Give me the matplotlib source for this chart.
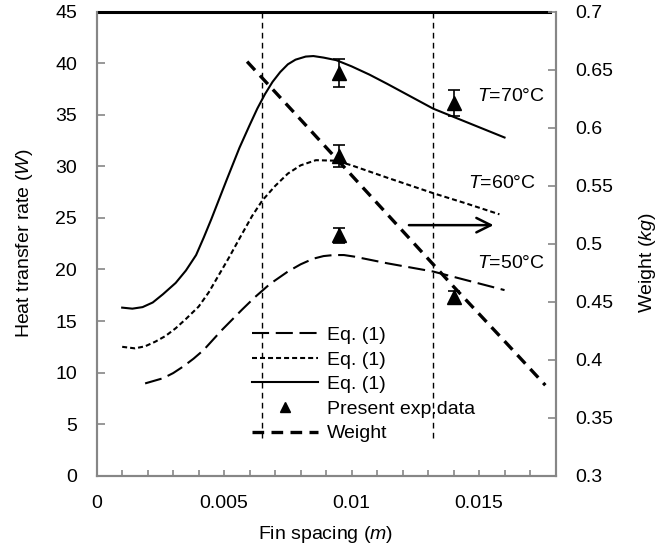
import numpy as np
import matplotlib
matplotlib.use("Agg")
from matplotlib import pyplot as plt
from matplotlib.ticker import MultipleLocator, FuncFormatter

plt.rcParams['font.family'] = ['Liberation Sans', 'DejaVu Sans']
plt.rcParams['mathtext.fontset'] = 'custom'
plt.rcParams['mathtext.rm'] = 'Liberation Sans'
plt.rcParams['mathtext.it'] = 'Liberation Sans:italic'

# Eq. (1) curves
x70 = [0.001, 0.0014, 0.0018, 0.0022, 0.0026, 0.0031, 0.0035, 0.0039, 0.0042, 0.0045,
       0.0048, 0.0051, 0.0056, 0.0060, 0.0063, 0.0066, 0.0069, 0.0072, 0.0075, 0.0078,
       0.0082, 0.0085, 0.0089, 0.0094, 0.0100, 0.0107, 0.0114, 0.0120, 0.0126, 0.0132,
       0.0139, 0.0146, 0.0153, 0.0160]
q70 = [16.3, 16.2, 16.35, 16.8, 17.6, 18.7, 19.9, 21.4, 23.1, 24.9,
       26.8, 28.7, 31.8, 34.0, 35.6, 37.0, 38.2, 39.15, 39.9, 40.35,
       40.65, 40.7, 40.55, 40.3, 39.7, 38.9, 38.0, 37.2, 36.4, 35.6,
       34.9, 34.2, 33.5, 32.8]
x60 = [0.001, 0.0015, 0.0019, 0.0023, 0.0027, 0.0031, 0.0035, 0.0040, 0.0044, 0.0048,
       0.0052, 0.0056, 0.0061, 0.0065, 0.0070, 0.0075, 0.0080, 0.0086, 0.0094, 0.0100,
       0.0107, 0.0114, 0.0120, 0.0132, 0.0145, 0.0158]
q60 = [12.5, 12.35, 12.55, 13.0, 13.55, 14.3, 15.2, 16.4, 17.8, 19.5,
       21.2, 23.0, 25.2, 26.7, 28.1, 29.3, 30.1, 30.6, 30.55, 30.1,
       29.5, 28.9, 28.4, 27.4, 26.4, 25.35]
x50 = [0.0019, 0.0026, 0.0030, 0.0034, 0.0038, 0.0042, 0.0049, 0.0057, 0.0062, 0.0068,
       0.0075, 0.0080, 0.0085, 0.0089, 0.0093, 0.0097, 0.0101, 0.0107, 0.0114, 0.0123,
       0.0132, 0.0146, 0.0160]
q50 = [8.95, 9.45, 9.95, 10.6, 11.35, 12.2, 14.1, 16.1, 17.3, 18.6,
       19.8, 20.5, 21.05, 21.3, 21.4, 21.4, 21.25, 20.95, 20.6, 20.2,
       19.8, 18.9, 18.0]

# experimental data with error bars
x_exp = [0.0095, 0.014, 0.0095, 0.0095, 0.014]
q_exp = [39.05, 36.1, 31.0, 23.3, 17.35]
q_err = [1.35, 1.26, 1.05, 0.73, 0.6]

# weight (right axis)
x_weight = [0.0059, 0.008, 0.010, 0.012, 0.014, 0.016, 0.0176]
weight = [0.657, 0.607, 0.559, 0.511, 0.463, 0.416, 0.378]

# vertical guide lines
x_guides = [0.0065, 0.0132]

fig = plt.figure(figsize=(6.71, 5.5), dpi=100)
ax = fig.add_axes([0.1441, 0.1351, 0.6838, 0.8436])
ax2 = ax.twinx()

l50, = ax.plot(x50, q50, color='black', lw=1.5, dashes=(8.2, 3.2))
l60, = ax.plot(x60, q60, color='black', lw=1.5, dashes=(2.4, 1.45))
l70, = ax.plot(x70, q70, color='black', lw=1.5)
eb = ax.errorbar(x_exp, q_exp, yerr=q_err, fmt='^', color='black', ms=9.5,
                 capsize=4.4, elinewidth=1.2, capthick=1.2)
for xg in x_guides:
    ax.plot([xg, xg], [3.66, 45], color='black', lw=1.0, dashes=(4.1, 3.1))
ax.axhline(45, xmin=0.006, xmax=0.988, color='black', lw=2.2, clip_on=False)

lw_, = ax2.plot(x_weight, weight, color='black', lw=2.4, dashes=(3.5, 2.2))

ax.text(0.01758, 36.8, '$T$=70°C', ha='right', va='center', fontsize=14)
ax.text(0.01724, 28.36, '$T$=60°C', ha='right', va='center', fontsize=14)
ax.text(0.01758, 20.6, '$T$=50°C', ha='right', va='center', fontsize=14)
ax.annotate('', xy=(0.01568, 24.3), xytext=(0.01214, 24.3),
            arrowprops=dict(arrowstyle='->', lw=1.8, color='black', mutation_scale=26))

ax.set_xlim(0, 0.018)
ax.set_ylim(0, 45)
ax2.set_ylim(0.3, 0.7)
ax.xaxis.set_major_locator(MultipleLocator(0.005))
ax.xaxis.set_minor_locator(MultipleLocator(0.001))
ax.xaxis.set_major_formatter(FuncFormatter(lambda v, p: '0' if v == 0 else ('%g' % round(v, 4))))
ax.yaxis.set_major_locator(MultipleLocator(5))
ax2.yaxis.set_major_locator(MultipleLocator(0.05))
ax2.yaxis.set_major_formatter(FuncFormatter(lambda v, p: '%g' % round(v, 3)))

gray = '#868686'
for a in (ax, ax2):
    for s in ('left', 'right', 'bottom'):
        a.spines[s].set_color(gray)
        a.spines[s].set_linewidth(1.5)
    a.spines['top'].set_visible(False)
ax.tick_params(axis='x', which='both', direction='in', length=4.5, width=1.2, color=gray,
               labelsize=14, pad=14, top=False)
ax.tick_params(axis='y', direction='in', length=5.5, width=1.2, color=gray,
               labelsize=14, pad=14)
ax2.tick_params(axis='y', direction='in', length=5.5, width=1.2, color=gray,
                labelsize=14, pad=14)

ax.set_xlabel('Fin spacing ($m$)', fontsize=14, va='center')
ax.xaxis.set_label_coords(0.498, -0.1265)
ax.set_ylabel('Heat transfer rate ($W$)', fontsize=14, va='center')
ax.yaxis.set_label_coords(-0.1565, 0.5)
ax2.set_ylabel('Weight ($kg$)', fontsize=14, va='center')
ax2.yaxis.set_label_coords(1.2005, 0.46)

ax.legend([l50, l60, l70, eb[0], lw_],
          ['Eq. (1)', 'Eq. (1)', 'Eq. (1)', 'Present exp.data', 'Weight'],
          loc='upper left', bbox_to_anchor=(0.339, 0.322), frameon=False,
          fontsize=14, handlelength=3.4, handletextpad=0.46, labelspacing=0.36,
          borderpad=0, borderaxespad=0, markerscale=0.8)

fig.savefig('out.png', dpi=100)
